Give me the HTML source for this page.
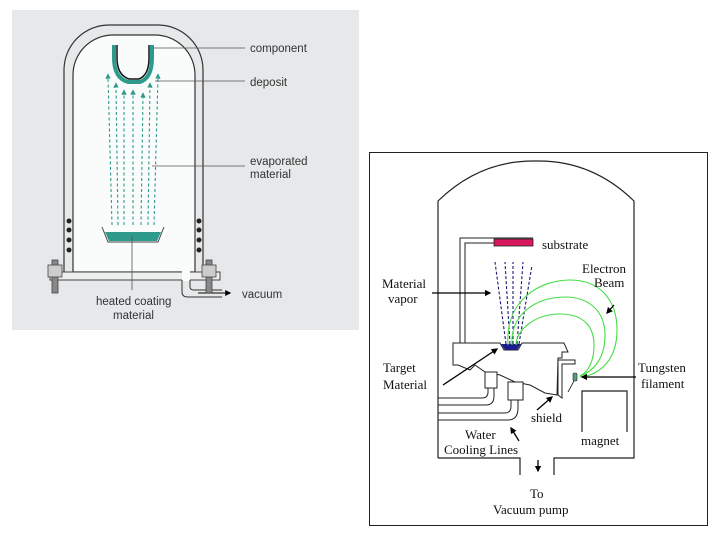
<!DOCTYPE html>
<html><head><meta charset="utf-8"><style>
body{margin:0;width:720px;height:540px;background:#fff;overflow:hidden}
svg{display:block}
</style></head><body>
<svg width="720" height="540" viewBox="0 0 720 540" xmlns="http://www.w3.org/2000/svg">
<defs>
<marker id="ta" viewBox="0 0 10 10" refX="5" refY="5" markerWidth="5" markerHeight="5" orient="auto"><path d="M0,0L10,5L0,10z" fill="#2e9a8c"/></marker>
<marker id="ba" viewBox="0 0 10 10" refX="8" refY="5" markerWidth="5" markerHeight="5" orient="auto"><path d="M0,0L10,5L0,10z" fill="#000"/></marker>
</defs>
<!-- left panel -->
<rect x="12" y="10" width="347" height="320" fill="#e6e8ea"/>
<path d="M64,272 V70 A45,45 0 0 1 109,25 H158 A45,45 0 0 1 203,70 V272" fill="none" stroke="#333" stroke-width="1.2"/>
<path d="M73,272 V75 A40,40 0 0 1 113,35 H155 A40,40 0 0 1 195,75 V272 Z" fill="#fafcfb" stroke="#333" stroke-width="1.2"/>
<rect x="50" y="272" width="170" height="8" fill="#eef0ef" stroke="#444" stroke-width="1"/>
<rect x="182" y="271" width="8" height="10" fill="#fafcfb"/>
<path d="M182,280 V292 Q182,297 188,297 H222 M190,280 V287 Q190,290 194,290 H222" fill="none" stroke="#333"/>
<path d="M198,293 H230" stroke="#333" stroke-width="1.2" marker-end="url(#ba)"/>
<g fill="#888" stroke="#444" stroke-width="0.8">
<rect x="52" y="260" width="6" height="33"/><rect x="48" y="265" width="14" height="12" fill="#ccc"/>
<rect x="206" y="260" width="6" height="33"/><rect x="202" y="265" width="14" height="12" fill="#ccc"/>
</g>
<g fill="#222"><circle cx="69" cy="221" r="2.5"/><circle cx="69" cy="230" r="2.5"/><circle cx="69" cy="240" r="2.5"/><circle cx="69" cy="250" r="2.5"/>
<circle cx="199" cy="221" r="2.5"/><circle cx="199" cy="230" r="2.5"/><circle cx="199" cy="240" r="2.5"/><circle cx="199" cy="250" r="2.5"/></g>
<path d="M114,45 V58 Q114,78 128,82 H140 Q152,78 152,58 V45" fill="none" stroke="#2e9a8c" stroke-width="4"/>
<path d="M117,45 V58 Q117,75 129,79 H139 Q149,75 149,58 V45" fill="none" stroke="#111" stroke-width="1.5"/>
<path d="M102,227 L108,242 H158 L164,227" fill="none" stroke="#444" stroke-width="1"/>
<path d="M105,232 H161 L157,241 H109 Z" fill="#2e9a8c"/>
<g stroke="#2e9a8c" stroke-width="1.1" stroke-dasharray="3,2.5" fill="none" marker-end="url(#ta)">
<path d="M112,225 L108,76"/><path d="M118,225 L116,85"/><path d="M124,225 L124,92"/><path d="M133,225 L133,92"/>
<path d="M141,225 L143,95"/><path d="M148,225 L150,85"/><path d="M154,225 L158,76"/>
</g>
<g stroke="#555" stroke-width="0.8" fill="none">
<path d="M153,48 H245"/><path d="M155,81 H245"/><path d="M152,166 H245"/><path d="M132,236 V290"/>
</g>
<g font-family="Liberation Sans, sans-serif" font-size="11.5" fill="#333">
<text x="250" y="52">component</text><text x="250" y="86">deposit</text>
<text x="250" y="165">evaporated</text><text x="250" y="178">material</text>
<text x="96" y="305">heated coating</text><text x="113" y="319">material</text>
<text x="242" y="298">vacuum</text>
</g>
<!-- right panel -->
<rect x="369.5" y="152.5" width="338" height="373" fill="#fff" stroke="#222" stroke-width="1"/>
<path d="M438,458 V201 Q480,160 536,161 Q592,160 634,201 V458 H554 V475 M520,475 V458 H438" fill="none" stroke="#222" stroke-width="1.2"/>
<path d="M460,343 V238 H533 M465,343 V243 H494" fill="none" stroke="#222" stroke-width="1"/>
<rect x="494" y="239" width="39" height="7" fill="#d8185e" stroke="#222" stroke-width="0.8"/>
<!-- crucible -->
<path d="M453,343 H500 L504,350 H518 L522,343 H564 L568,352 H562 V358 H558 L557,395 L545,393 L530,385 L515,382 L500,375 L485,372 L475,365 L470,370 L458,365 H453 Z" fill="#fff" stroke="#222" stroke-width="1"/>
<path d="M501,344 H521 L517,350 H505 Z" fill="#1c1c8c"/>
<g fill="#fff" stroke="#222" stroke-width="1">
<rect x="485" y="372" width="12" height="16"/><rect x="508" y="382" width="15" height="18"/>
</g>
<path d="M438,398 H482 Q488,398 488,392 V388 M438,405 H486 Q494,405 494,396 V388 M438,413 H505 Q511,413 511,406 V400 M438,420 H508 Q518,420 518,408 V400" fill="none" stroke="#222" stroke-width="1"/>
<path d="M558,395 V360 H575 V364 H562 V398 Z" fill="#fff" stroke="#222" stroke-width="1"/>
<rect x="573" y="373" width="4" height="8" rx="1.5" fill="#5a9a8a" stroke="#222" stroke-width="0.6"/>
<path d="M568,392 L574,381" stroke="#222" stroke-width="0.8"/>
<path d="M582,432 V391 H627 V432" fill="none" stroke="#222" stroke-width="1.2"/>
<!-- vapor -->
<g stroke="#1a1a7a" stroke-width="1.1" stroke-dasharray="3,2" fill="none">
<path d="M506,344 L495,262"/><path d="M510,344 L505,262"/><path d="M513,344 L513,262"/><path d="M517,344 L523,262"/><path d="M519,344 L532,265"/>
</g>
<!-- beam -->
<g stroke="#44dd44" stroke-width="1.1" fill="none">
<path d="M508,345 C505,300 540,280 570,280 C600,280 617,300 617,330 C617,360 600,375 580,377"/>
<path d="M512,345 C510,315 535,297 565,297 C590,297 605,312 605,335 C605,360 592,372 580,376"/>
<path d="M516,345 C516,330 535,314 560,314 C585,314 594,328 594,345 C594,362 588,372 580,376"/>
</g>
<!-- arrows -->
<g stroke="#000" stroke-width="1.3" fill="none" marker-end="url(#ba)">
<path d="M432,293 H490"/><path d="M443,385 L497,349"/><path d="M636,377 H582"/>
<path d="M614,305 L607,313"/><path d="M537,410 L552,397"/><path d="M519,441 L511,428"/><path d="M538,460 V471"/>
</g>
<g font-family="Liberation Serif, serif" font-size="13" fill="#111">
<text x="542" y="249">substrate</text>
<text x="582" y="273">Electron</text><text x="594" y="287">Beam</text>
<text x="382" y="288">Material</text><text x="388" y="303">vapor</text>
<text x="383" y="372">Target</text><text x="383" y="389">Material</text>
<text x="638" y="372">Tungsten</text><text x="641" y="388">filament</text>
<text x="531" y="422">shield</text>
<text x="465" y="439">Water</text><text x="444" y="454">Cooling Lines</text>
<text x="581" y="445">magnet</text>
<text x="530" y="498">To</text><text x="493" y="514">Vacuum pump</text>
</g>
</svg>
</body></html>
